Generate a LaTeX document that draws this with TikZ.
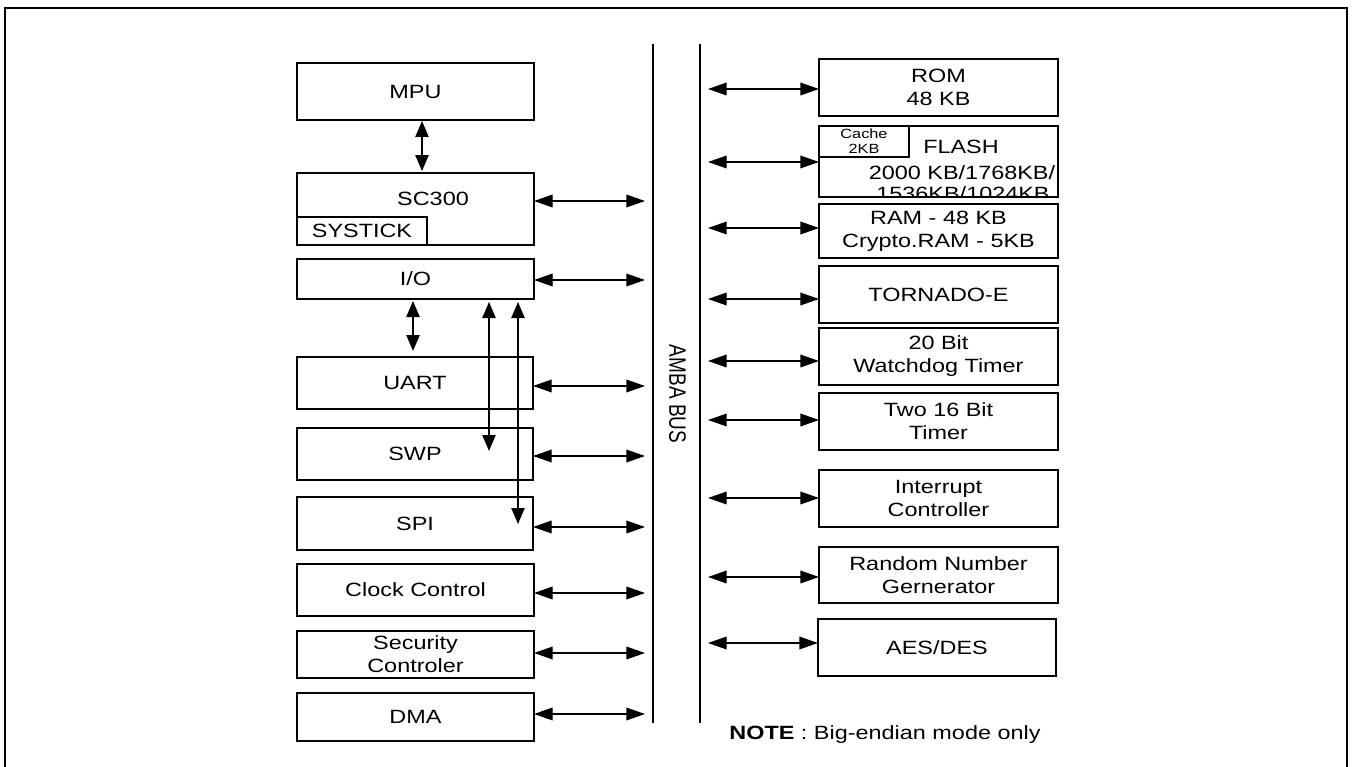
\documentclass[tikz,border=0pt]{standalone}
\usepackage{fontspec}
\setmainfont[FakeStretch=1.22]{Liberation Sans}
\newfontfamily\busfont[FakeStretch=0.8]{Liberation Sans}
\usetikzlibrary{arrows.meta}
\newcommand\mfs{\fontsize{14.4}{17.25}\selectfont}
\newcommand\sfs{\fontsize{10}{11.25}\selectfont}
\newcommand\blk[6]{\node[blk, minimum width={(#4-#2)*0.75pt}, minimum height={(#5-#3)*0.75pt}] (#1) at ({(#2+#4)/2},{(#3+#5)/2}) {#6};}
\tikzset{
  blk/.style={draw, line width=1pt, inner sep=0pt, outer sep=0pt, align=center, font=\mfs},
  hcon/.style={line width=1pt, {Triangle[length=14pt,width=9.5pt]}-{Triangle[length=14pt,width=9.5pt]}},
  vcon/.style={line width=1pt, {Triangle[length=12pt,width=10pt]}-{Triangle[length=12pt,width=10pt]}},
  bus/.style={line width=1.1pt},
  txt/.style={inner sep=0pt, font=\mfs}
}
\begin{document}
\begin{tikzpicture}[x=0.75pt,y=-0.75pt]
\clip (0,0) rectangle (1354,767);
\draw[line width=1.6pt] (5,780) -- (5,8) -- (1347,8) -- (1347,780);

% bus lines
\coordinate (bl1) at (653,44); \coordinate (bl2) at (653,723);
\coordinate (br1) at (700,44); \coordinate (br2) at (700,723);
\draw[bus] (bl1) -- (bl2);
\draw[bus] (br1) -- (br2);
\node[rotate=-90, inner sep=0pt, font=\busfont\fontsize{17.8}{20}\selectfont] (amba) at (677.5,394) {AMBA BUS};

% left blocks
\blk{mpu}{297}{63}{534}{120}{MPU}
\blk{sc}{297}{173}{534}{245}{}
\node[txt, anchor=base] (sct) at (433,205.5) {SC300};
\blk{systick}{297}{217}{427}{245}{SYSTICK}
\blk{io}{297}{259}{534}{299}{I/O}
\blk{uart}{297}{357}{533}{409}{UART}
\blk{swp}{297}{428}{533}{480}{SWP}
\blk{spi}{297}{497}{533}{550}{SPI}
\blk{clk}{297}{564}{534}{616}{Clock Control}
\blk{sec}{297}{631}{534}{678}{Security\\Controler}
\blk{dma}{297}{693}{534}{741}{DMA}

% right blocks
\blk{rom}{819}{59}{1058}{116}{ROM\\48 KB}
\blk{flash}{819}{126}{1058}{197}{}
\node[blk, font=\sfs, minimum width={90*0.75pt}, minimum height={31*0.75pt}] (cache) at (864,141.5) {Cache\\2KB};
\node[txt, anchor=base] (flt) at (961,153) {FLASH};
\node[txt, anchor=base] (fl2) at (962,179) {2000 KB/1768KB/};
\begin{scope}
\clip (819,126) rectangle (1058,197);
\node[txt, anchor=base] (fl3) at (963,200.5) {1536KB/1024KB};
\end{scope}
\blk{ram}{819}{204}{1058}{258}{RAM - 48 KB\\Crypto.RAM - 5KB}
\blk{tor}{819}{266}{1058}{323}{TORNADO-E}
\blk{wdt}{819}{328}{1058}{385}{20 Bit\\Watchdog Timer}
\blk{tmr}{819}{393}{1058}{450}{Two 16 Bit\\Timer}
\blk{irq}{819}{470}{1058}{527}{Interrupt\\Controller}
\blk{rng}{819}{547}{1058}{603}{Random Number\\Gernerator}
\blk{aes}{818}{619}{1056}{676}{AES/DES}

\node[txt, anchor=base] (note) at (885,739) {\textbf{NOTE} : Big-endian mode only};

% vertical connectors
\coordinate (v1a) at (422,121); \coordinate (v1b) at (422,171);
\draw[vcon] (v1a) -- (v1b);
\coordinate (v2a) at (413,301); \coordinate (v2b) at (413,351);
\draw[vcon] (v2a) -- (v2b);
\coordinate (v3a) at (489,302); \coordinate (v3b) at (489,451);
\draw[vcon] (v3a) -- (v3b);
\coordinate (v4a) at (518,302); \coordinate (v4b) at (518,524);
\draw[vcon] (v4a) -- (v4b);

% left connectors to bus
\foreach \n/\y in {sc/201, io/280, uart/386, swp/456, spi/527, clk/593, sec/653, dma/714}{
  \coordinate (L\n) at (645,\y);
  \draw[hcon] (\n.east |- L\n) -- (L\n);
}
% right connectors from bus
\foreach \n/\y in {rom/89, flash/162, ram/228, tor/299, wdt/361, tmr/420, irq/498, rng/577, aes/643}{
  \coordinate (R\n) at (708,\y);
  \draw[hcon] (R\n) -- (\n.west |- R\n);
}
\end{tikzpicture}
\end{document}
